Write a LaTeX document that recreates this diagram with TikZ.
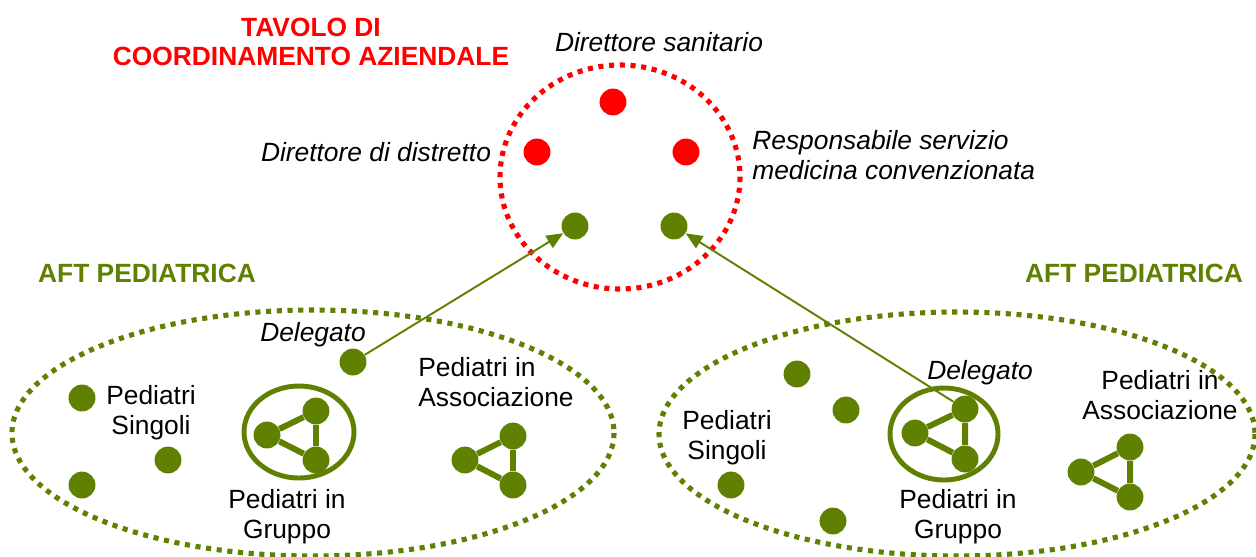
\documentclass[tikz,border=0pt]{standalone}
\usepackage{fontspec}
\setmainfont{Liberation Sans}
\usetikzlibrary{arrows.meta}
\definecolor{aftgreen}{RGB}{95,128,0}
\definecolor{tavred}{RGB}{255,0,0}

\begin{document}
\begin{tikzpicture}[x=0.02cm,y=-0.02cm,
	dot/.style={circle,fill=#1,inner sep=0pt,minimum size=15.3pt},
	dot/.default=aftgreen,
	link/.style={aftgreen,line width=3.4pt},
	dots/.style={#1,line width=2.9pt,dash pattern=on 2.9pt off 3.2pt},
	txt/.style={font=\fontsize{15}{17}\selectfont,inner sep=0pt},
	ttl/.style={txt,font=\fontsize{15}{16.5}\selectfont\bfseries,align=center},
	deleg/.style={aftgreen,line width=1.1pt,-{Triangle[length=9.5pt,width=8pt]}}]
	\useasboundingbox (0,0) rectangle (1256,556);

	\draw[dots=tavred] (620,177) ellipse [x radius=120,y radius=112];
	\draw[dots=aftgreen] (313,433) ellipse [x radius=301,y radius=123];
	\draw[dots=aftgreen] (957,434) ellipse [x radius=298,y radius=122];

	\node[ttl,tavred] (tavolo) at (311,42) {TAVOLO DI\\COORDINAMENTO AZIENDALE};
	\node[ttl,aftgreen] (aftL) at (147,273) {AFT PEDIATRICA};
	\node[ttl,aftgreen] (aftR) at (1134,273) {AFT PEDIATRICA};

	\node[dot=tavred] (dirSan) at (613,102) {};
	\node[dot=tavred] (dirDis) at (537,152) {};
	\node[dot=tavred] (respMed) at (686,152) {};
	\node[dot] (tavL) at (575,226) {};
	\node[dot] (tavR) at (674,226) {};

	\node[txt,font=\fontsize{15}{17}\selectfont\itshape] at (659,42) {Direttore sanitario};
	\node[txt,font=\fontsize{15}{17}\selectfont\itshape] at (376,152) {Direttore di distretto};
	\node[txt,font=\fontsize{15}{17}\selectfont\itshape,align=left,anchor=west] at (752,155) {Responsabile servizio\\medicina convenzionata};

	% AFT sinistra
	\node[dot] (singL1) at (82,398) {};
	\node[dot] (singL2) at (168,460) {};
	\node[dot] (singL3) at (82,485) {};
	\node[dot] (delL) at (353,362) {};
	\draw[aftgreen,line width=2.8pt] (299,432) ellipse [x radius=55,y radius=46];
	\node[dot] (grpL1) at (267,435) {};
	\node[dot] (grpL2) at (316,411) {};
	\node[dot] (grpL3) at (316,460) {};
	\draw[link] (grpL1) -- (grpL2) -- (grpL3) -- (grpL1);
	\node[dot] (assL1) at (465,460) {};
	\node[dot] (assL2) at (513,436) {};
	\node[dot] (assL3) at (513,485) {};
	\draw[link] (assL1) -- (assL2) -- (assL3) -- (assL1);

	\node[txt,align=center] at (151,413) {Pediatri\\Singoli};
	\node[txt,align=center] at (287,517) {Pediatri in\\Gruppo};
	\node[txt,align=left,anchor=west] at (418,382) {Pediatri in\\Associazione};
	\node[txt,font=\fontsize{15}{17}\selectfont\itshape] at (313,335) {Delegato};

	% AFT destra
	\node[dot] (singR1) at (797,374) {};
	\node[dot] (singR2) at (846,410) {};
	\node[dot] (singR3) at (731,485) {};
	\node[dot] (singR4) at (833,521) {};
	\draw[aftgreen,line width=2.8pt] (944,434) ellipse [x radius=54,y radius=46];
	\node[dot] (grpR1) at (915,433) {};
	\node[dot] (grpR2) at (965,409) {};
	\node[dot] (grpR3) at (965,459) {};
	\draw[link] (grpR1) -- (grpR2) -- (grpR3) -- (grpR1);
	\node[dot] (assR1) at (1081,472) {};
	\node[dot] (assR2) at (1130,447) {};
	\node[dot] (assR3) at (1130,497) {};
	\draw[link] (assR1) -- (assR2) -- (assR3) -- (assR1);

	\node[txt,align=center] at (727,438) {Pediatri\\Singoli};
	\node[txt,align=center] at (958,517) {Pediatri in\\Gruppo};
	\node[txt,align=center] at (1160,395) {Pediatri in\\Associazione};
	\node[txt,font=\fontsize{15}{17}\selectfont\itshape] at (980,373) {Delegato};

	\draw[deleg] (delL) -- (tavL);
	\draw[deleg] (grpR2) -- (tavR);

\end{tikzpicture}
\end{document}
